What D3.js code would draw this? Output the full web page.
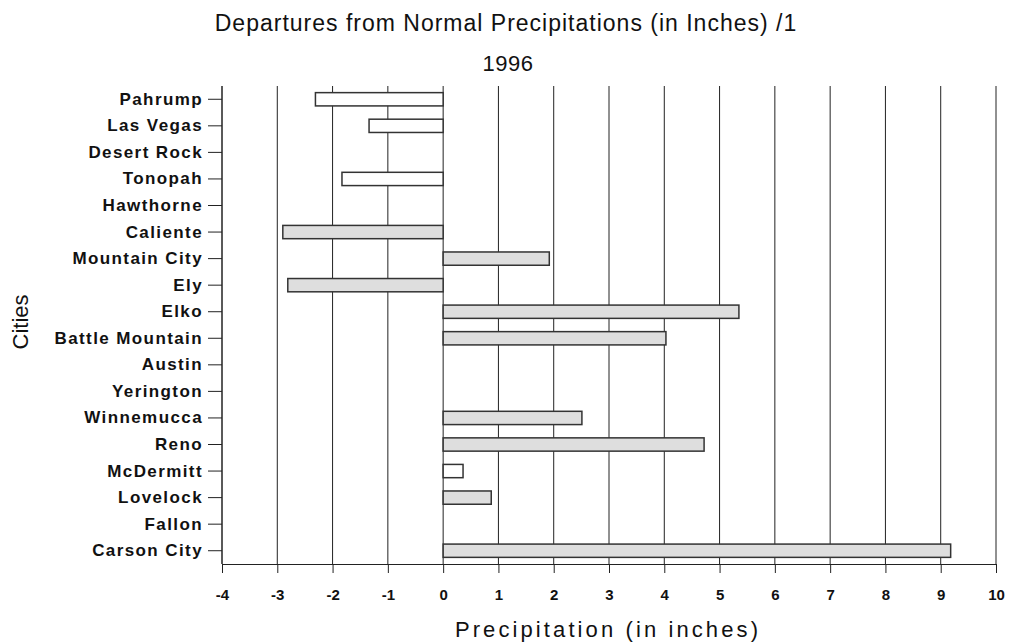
<!DOCTYPE html>
<html>
<head>
<meta charset="utf-8">
<script src="https://cdn.jsdelivr.net/npm/d3@7"></script>
<style>
  body { margin: 0; background: #fff; }
  text { font-family: "Liberation Sans", Arial, sans-serif; fill: #111; }
</style>
</head>
<body>
<div id="chart"></div>
<script>
// cities listed top to bottom
let cities = ["Pahrump", "Las Vegas", "Desert Rock", "Tonopah", "Hawthorne", "Caliente",
    "Mountain City", "Ely", "Elko", "Battle Mountain", "Austin", "Yerington",
    "Winnemucca", "Reno", "McDermitt", "Lovelock", "Fallon", "Carson City"];
let departures = [-2.31, -1.34, 0, -1.83, 0, -2.9,
    1.92, -2.81, 5.35, 4.03, 0, 0,
    2.51, 4.72, 0.36, 0.87, 0, 9.18];
// white bars in the scan, the rest are grey
let whiteBars = ["Pahrump", "Las Vegas", "Tonopah", "McDermitt"];
let xTicks = [-4, -3, -2, -1, 0, 1, 2, 3, 4, 5, 6, 7, 8, 9, 10];

let width = 1010
let height = 644
let margin = {top: 86, right: 14, bottom: 80, left: 222};

let svg = d3.select("#chart").append("svg")
    .attr("width", width)
    .attr("height", height);

let x = d3.scaleLinear()
    .domain([-4, 10])
    .range([margin.left, width - margin.right]);

let y = d3.scaleBand()
    .domain(cities)
    .range([margin.top, height - margin.bottom])
    .paddingInner(0.5)
    .paddingOuter(0.25);

// vertical grid lines
svg.append("g")
    .selectAll("line")
    .data(xTicks)
    .enter().append("line")
    .attr("x1", d => x(d))
    .attr("x2", d => x(d))
    .attr("y1", margin.top)
    .attr("y2", height - margin.bottom)
    .attr("stroke", "#222")
    .attr("stroke-width", 1);

// bars
svg.append("g")
    .selectAll("rect")
    .data(cities.map((c, i) => ({city: c, value: departures[i]})).filter(d => d.value != 0))
    .enter().append("rect")
    .attr("x", d => x(Math.min(0, d.value)))
    .attr("width", d => Math.abs(x(d.value) - x(0)))
    .attr("y", d => y(d.city))
    .attr("height", y.bandwidth())
    .attr("fill", d => whiteBars.includes(d.city) ? "#fff" : "#dedede")
    .attr("stroke", "#333")
    .attr("stroke-width", 1.5);

// x axis
let xAxis = svg.append("g")
    .attr("transform", "translate(0," + (height - margin.bottom) + ")")
    .call(d3.axisBottom(x).tickValues(xTicks).tickSize(9).tickPadding(16).tickFormat(d => String(d)));
xAxis.select(".domain").attr("stroke", "#222");
xAxis.selectAll(".tick line").attr("stroke", "#222");
xAxis.selectAll("text")
    .style("font-size", "15px")
    .style("font-weight", "bold")
    .style("font-family", "'Liberation Sans', Arial, sans-serif")
    .attr("fill", "#111");

// y axis
let yAxis = svg.append("g")
    .attr("transform", "translate(" + margin.left + ",0)")
    .call(d3.axisLeft(y).tickSize(14).tickPadding(5));
yAxis.select(".domain").attr("stroke", "#222").attr("d", "M0," + margin.top + "V" + (height - margin.bottom));
yAxis.selectAll(".tick line").attr("stroke", "#222");
yAxis.selectAll("text")
    .style("font-size", "17px")
    .style("font-weight", "bold")
    .style("letter-spacing", "1.4px")
    .style("font-family", "'Liberation Sans', Arial, sans-serif")
    .attr("fill", "#111");

// titles
svg.append("text")
    .attr("x", 506)
    .attr("y", 31)
    .attr("text-anchor", "middle")
    .style("font-size", "23px")
    .style("letter-spacing", "1px")
    .text("Departures from Normal Precipitations (in Inches) /1");

svg.append("text")
    .attr("x", 508)
    .attr("y", 71)
    .attr("text-anchor", "middle")
    .style("font-size", "22px")
    .style("letter-spacing", "0.5px")
    .text("1996");

svg.append("text")
    .attr("x", 608)
    .attr("y", 637)
    .attr("text-anchor", "middle")
    .style("font-size", "22px")
    .style("letter-spacing", "3.1px")
    .text("Precipitation (in inches)");

svg.append("text")
    .attr("transform", "translate(28,322) rotate(-90)")
    .attr("text-anchor", "middle")
    .style("font-size", "22px")
    .text("Cities");
</script>
</body>
</html>
